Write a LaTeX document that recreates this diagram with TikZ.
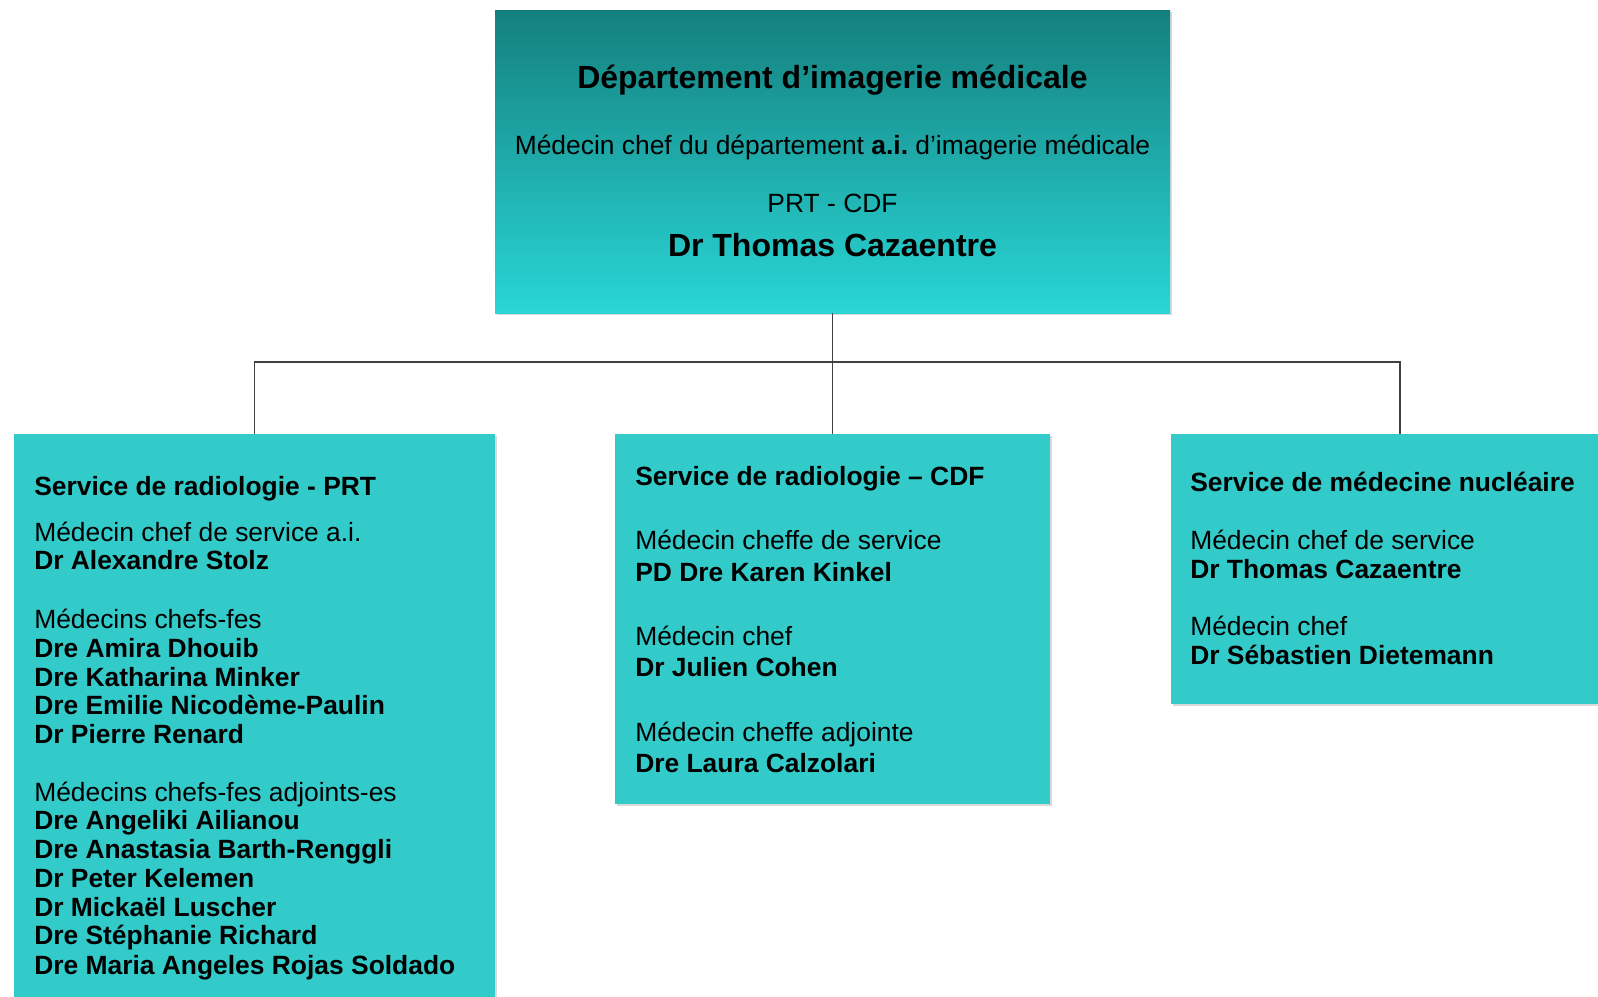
\documentclass[tikz,border=0pt]{standalone}
\usepackage{fontspec}
\setmainfont{Liberation Sans}
\frenchspacing
\usetikzlibrary{shadows}
\definecolor{depttop}{HTML}{14807E}
\definecolor{deptbot}{HTML}{29D6D6}
\definecolor{svcteal}{HTML}{33CACA}
\definecolor{orggray}{HTML}{404040}

\begin{document}
\begin{tikzpicture}[x=0.75pt,y=-0.75pt,
  orgbox/.style={rectangle,draw=none,inner sep=0pt,
    drop shadow={shadow xshift=1.2pt,shadow yshift=-1.8pt,opacity=0.15,fill=black}},
  svcbox/.style={orgbox,fill=svcteal},
  jobtxt/.style={anchor=base west,inner sep=0pt,font=\fontsize{19.8}{23}\selectfont},
  persontxt/.style={jobtxt,font=\fontsize{19.8}{23}\selectfont\bfseries},
  orgline/.style={draw=orggray,line width=1pt}]
\useasboundingbox (0,0) rectangle (1598,996);
\clip (0,0) rectangle (1598,996);

% Departement
\node[orgbox,top color=depttop,bottom color=deptbot,minimum width=506.25pt,minimum height=227.25pt] (dept) at (832.5,161.5) {};
\node[anchor=base,inner sep=0pt,font=\fontsize{24}{28}\selectfont\bfseries] (depttitle) at (832.5,88) {Département d’imagerie médicale};
\node[anchor=base,inner sep=0pt,font=\fontsize{19.8}{23}\selectfont] (deptjob) at (832.5,154) {Médecin chef du département \textbf{a.i.} d’imagerie médicale};
\node[anchor=base,inner sep=0pt,font=\fontsize{19.8}{23}\selectfont] (deptsites) at (832.5,212) {PRT - CDF};
\node[anchor=base,inner sep=0pt,font=\fontsize{24}{28}\selectfont\bfseries] (depthead) at (832.5,256) {Dr Thomas Cazaentre};

% Services
\node[svcbox,minimum width=360.75pt,minimum height=432pt] (prt) at (254.5,722) {};
\node[svcbox,minimum width=326.25pt,minimum height=277.5pt] (cdf) at (832.5,619) {};
\node[svcbox,minimum width=343.5pt,minimum height=202.5pt] (nuc) at (1400,569) {};

% Lines
\coordinate (bus) at (832.5,362);
\draw[orgline] (dept.south) -- (cdf.north);
\draw[orgline] (prt.north) |- (bus) -| (nuc.north);

% Radiologie PRT
\node[persontxt] (prttitle) at (34,495) {Service de radiologie - PRT};
\node[jobtxt] (prtjob1) at (34,541) {Médecin chef de service a.i.};
\node[persontxt] (prtp1) at (34,569) {Dr Alexandre Stolz};
\node[jobtxt] (prtjob2) at (34,628) {Médecins chefs-fes};
\node[persontxt] (prtp2) at (34,657) {Dre Amira Dhouib};
\node[persontxt] (prtp3) at (34,686) {Dre Katharina Minker};
\node[persontxt] (prtp4) at (34,714) {Dre Emilie Nicodème-Paulin};
\node[persontxt] (prtp5) at (34,743) {Dr Pierre Renard};
\node[jobtxt] (prtjob3) at (34,801) {Médecins chefs-fes adjoints-es};
\node[persontxt] (prtp6) at (34,829) {Dre Angeliki Ailianou};
\node[persontxt] (prtp7) at (34,858) {Dre Anastasia Barth-Renggli};
\node[persontxt] (prtp8) at (34,887) {Dr Peter Kelemen};
\node[persontxt] (prtp9) at (34,916) {Dr Mickaël Luscher};
\node[persontxt] (prtp10) at (34,944) {Dre Stéphanie Richard};
\node[persontxt] (prtp11) at (34,974) {Dre Maria Angeles Rojas Soldado};

% Radiologie CDF
\node[persontxt] (cdftitle) at (635,485) {Service de radiologie – CDF};
\node[jobtxt] (cdfjob1) at (635,549) {Médecin cheffe de service};
\node[persontxt] (cdfp1) at (635,581) {PD Dre Karen Kinkel};
\node[jobtxt] (cdfjob2) at (635,645) {Médecin chef};
\node[persontxt] (cdfp2) at (635,676) {Dr Julien Cohen};
\node[jobtxt] (cdfjob3) at (635,741) {Médecin cheffe adjointe};
\node[persontxt] (cdfp3) at (635,772) {Dre Laura Calzolari};

% Medecine nucleaire
\node[persontxt] (nuctitle) at (1190,491) {Service de médecine nucléaire};
\node[jobtxt] (nucjob1) at (1190,549) {Médecin chef de service};
\node[persontxt] (nucp1) at (1190,578) {Dr Thomas Cazaentre};
\node[jobtxt] (nucjob2) at (1190,635) {Médecin chef};
\node[persontxt] (nucp2) at (1190,664) {Dr Sébastien Dietemann};
\end{tikzpicture}
\end{document}
